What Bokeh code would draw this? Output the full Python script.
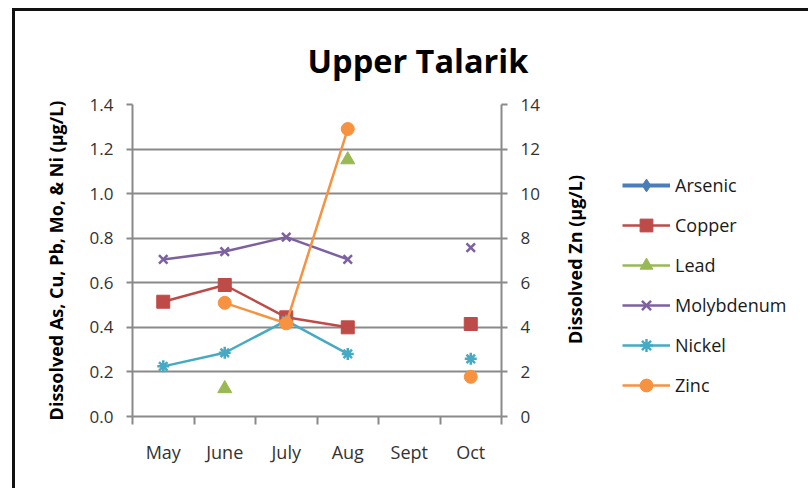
import math
from bokeh.plotting import figure
from bokeh.layouts import row
from bokeh.models import (ColumnDataSource, FactorRange, Range1d, LinearAxis, FixedTicker,
                          NumeralTickFormatter, Legend, LegendItem, Label)
from bokeh.embed import file_html
from bokeh.resources import INLINE

NA = float("nan")

# ---- data ----
months = ["May", "June", "July", "Aug", "Sept", "Oct"]
arsenic = [NA, NA, NA, NA, NA, NA]
copper = [0.515, 0.59, 0.445, 0.40, NA, 0.415]
lead = [NA, 0.125, NA, 1.152, NA, NA]
molybdenum = [0.705, 0.74, 0.805, 0.705, NA, 0.758]
nickel = [0.225, 0.286, 0.43, 0.281, NA, 0.259]
zinc = [NA, 5.1, 4.18, 12.9, NA, 1.78]          # right axis

left_ticks = [0.0, 0.2, 0.4, 0.6, 0.8, 1.0, 1.2, 1.4]
right_ticks = [0, 2, 4, 6, 8, 10, 12, 14]

title_text = "Upper Talarik"
left_title = "Dissolved As, Cu, Pb, Mo, & Ni (\u00b5g/L)"
right_title = "Dissolved Zn (\u00b5g/L)"
series_names = ["Arsenic", "Copper", "Lead", "Molybdenum", "Nickel", "Zinc"]
series_values = [arsenic, copper, lead, molybdenum, nickel, zinc]

# ---- styles ----
styles = {
    "Arsenic":    dict(color="#4a7ebb", marker="diamond",  size=14, lw=4.0, axis="default"),
    "Copper":     dict(color="#be4b48", marker="square",   size=13, lw=2.5, axis="default"),
    "Lead":       dict(color="#98b954", marker="triangle", size=14, lw=2.5, axis="default"),
    "Molybdenum": dict(color="#7d60a0", marker="x",        size=12, lw=2.5, axis="default"),
    "Nickel":     dict(color="#46aac5", marker="asterisk", size=12, lw=2.5, axis="default"),
    "Zinc":       dict(color="#f69240", marker="circle",   size=13, lw=2.5, axis="zn"),
}
GRID = "#8a8a8a"
TICKTXT = "#333333"
FONT = "Open Sans"
H = 477

p = figure(width=540, height=H,
           x_range=FactorRange(factors=months, range_padding=0),
           y_range=Range1d(left_ticks[0], left_ticks[-1]),
           x_axis_location=None, y_axis_location="left",
           output_backend="svg", toolbar_location=None,
           min_border_left=117, min_border_right=54,
           min_border_top=93, min_border_bottom=72)
p.outline_line_color = None
p.background_fill_color = "white"
p.border_fill_color = "white"

# main title
p.title.text = title_text
p.title.align = "left"
p.title.offset = 175
p.title.vertical_align = "bottom"
p.title.standoff = 44
p.title.text_font = FONT
p.title.text_font_style = "bold"
p.title.text_font_size = "32.5px"
p.title.text_color = "#000000"

p.extra_y_ranges = {"zn": Range1d(right_ticks[0], right_ticks[-1])}

# grid
p.xgrid.visible = False
p.ygrid.ticker = FixedTicker(ticks=left_ticks)
p.ygrid.grid_line_color = GRID
p.ygrid.grid_line_width = 2

def style_axis(ax):
    ax.axis_line_color = GRID
    ax.axis_line_width = 2
    ax.major_tick_line_color = GRID
    ax.major_tick_line_width = 2
    ax.major_tick_in = 0
    ax.major_tick_out = 6
    ax.minor_tick_line_color = None
    ax.major_label_text_font = FONT
    ax.major_label_text_font_size = "17px"
    ax.major_label_text_color = TICKTXT
    ax.major_label_standoff = 13
    ax.axis_label_text_font = FONT
    ax.axis_label_text_font_style = "bold"
    ax.axis_label_text_font_size = "18px"
    ax.axis_label_text_color = "#000000"

# left axis
ly = p.yaxis[0]
ly.ticker = FixedTicker(ticks=left_ticks)
ly.formatter = NumeralTickFormatter(format="0.0")
style_axis(ly)
ly.axis_label = left_title
ly.axis_label_standoff = 19

# right axis
ry = LinearAxis(y_range_name="zn", ticker=FixedTicker(ticks=right_ticks))
style_axis(ry)
p.add_layout(ry, "right")

# x axis on the factor range's synthetic coordinates:
# labels at category centres, tick marks at category edges
centers = [i + 0.5 for i in range(len(months))]
edges = [float(i) for i in range(len(months) + 1)]
xa = LinearAxis(ticker=FixedTicker(ticks=centers, minor_ticks=edges),
                major_label_overrides={c: m for c, m in zip(centers, months)})
style_axis(xa)
xa.major_tick_line_color = None
xa.major_tick_out = 0
xa.minor_tick_line_color = GRID
xa.minor_tick_line_width = 2
xa.minor_tick_in = 0
xa.minor_tick_out = 8
xa.major_label_text_font_size = "18px"
xa.major_label_standoff = 15
p.add_layout(xa, "below")

# side panel canvas: right-axis title + legend
q = figure(width=253, height=H, x_range=Range1d(0, 1), y_range=Range1d(0, 1),
           x_axis_location=None, y_axis_location=None,
           output_backend="svg", toolbar_location=None,
           min_border_left=0, min_border_right=0, min_border_top=0, min_border_bottom=0)
q.outline_line_color = None
q.xgrid.visible = False
q.ygrid.visible = False
q.background_fill_color = "white"
q.border_fill_color = "white"

q.add_layout(Label(x=19, y=157, x_units="screen", y_units="screen", text=right_title,
                   angle=math.pi / 2, text_font=FONT, text_font_style="bold",
                   text_font_size="18px", text_align="center", text_baseline="alphabetic",
                   text_color="#000000"))

# series
items = []
for name, vals in zip(series_names, series_values):
    st = styles[name]
    src = ColumnDataSource(dict(x=months, y=vals))
    kw = {} if st["axis"] == "default" else {"y_range_name": st["axis"]}
    p.line("x", "y", source=src, line_color=st["color"], line_width=st["lw"], **kw)
    p.scatter("x", "y", source=src, marker=st["marker"], size=st["size"],
              fill_color=st["color"], line_color=st["color"],
              line_width=2.5 if st["marker"] in ("x", "asterisk") else 1, **kw)
    # legend key renderers (no visible data) with identical styling
    key = ColumnDataSource(dict(x=[NA], y=[NA]))
    kl = q.line("x", "y", source=key, line_color=st["color"], line_width=st["lw"])
    ks = q.scatter("x", "y", source=key, marker=st["marker"], size=st["size"],
                   fill_color=st["color"], line_color=st["color"],
                   line_width=2.5 if st["marker"] in ("x", "asterisk") else 1)
    items.append(LegendItem(label=name, renderers=[kl, ks]))

legend = Legend(items=items, location=(67, 15), orientation="vertical",
                glyph_width=48, glyph_height=32, label_height=20, spacing=8,
                padding=0, margin=0, label_standoff=5,
                border_line_alpha=0, background_fill_alpha=0,
                label_text_font=FONT, label_text_font_size="18px",
                label_text_color="#1a1a1a")
q.add_layout(legend)

layout = row(p, q, spacing=0,
             styles={"border-left": "3px solid #111", "border-top": "3px solid #111",
                     "margin-left": "12px", "margin-top": "8px"})

open("out.html", "w").write(file_html(layout, INLINE))
